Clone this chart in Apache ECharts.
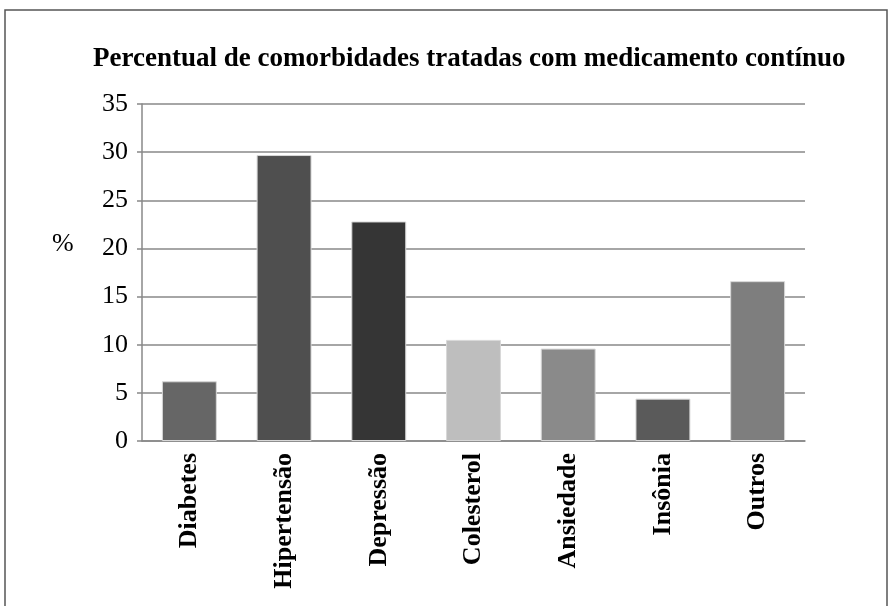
<!DOCTYPE html>
<html>
<head>
<meta charset="utf-8">
<script src="https://cdn.jsdelivr.net/npm/echarts@6/dist/echarts.min.js"></script>
<style>
  html, body { margin: 0; padding: 0; background: #fff; }
  #chart { width: 892px; height: 606px; }
</style>
</head>
<body>
<div id="chart"></div>
<script>
// dados
var categorias = ['Diabetes', 'Hipertensão', 'Depressão', 'Colesterol', 'Ansiedade', 'Insônia', 'Outros'];
var valores = [6.2, 29.7, 22.8, 10.5, 9.6, 4.4, 16.6];
var cores = ['#666666', '#4f4f4f', '#353535', '#bebebe', '#8a8a8a', '#5a5a5a', '#7e7e7e'];

var chart = echarts.init(document.getElementById('chart'));

var option = {
  backgroundColor: '#fff',
  animation: false,
  title: {
    text: 'Percentual de comorbidades tratadas com medicamento contínuo',
    left: 88,
    top: 41,
    textStyle: {
      fontFamily: 'Liberation Serif',
      fontWeight: 'bold',
      fontSize: 27,
      color: '#000'
    }
  },
  graphic: [
    {
      type: 'rect',
      shape: { x: 5, y: 10, width: 882, height: 620 },
      style: { fill: 'none', stroke: '#555', lineWidth: 1.5 },
      silent: true
    },
    {
      type: 'text',
      left: 52,
      top: 231,
      style: { text: '%', font: '26px "Liberation Serif"', fill: '#000' }
    }
  ],
  grid: { left: 142, right: 87, top: 104, bottom: 165 },
  xAxis: {
    type: 'category',
    data: categorias,
    axisLine: { lineStyle: { color: '#888', width: 1.5 } },
    axisTick: { show: false },
    axisLabel: {
      rotate: 90,
      margin: 12,
      fontFamily: 'Liberation Serif',
      fontWeight: 'bold',
      fontSize: 26,
      color: '#000'
    }
  },
  yAxis: {
    type: 'value',
    min: 0,
    max: 35,
    interval: 5,
    axisLine: { show: true, lineStyle: { color: '#888', width: 1.5 } },
    axisTick: { show: true, length: 5, lineStyle: { color: '#888', width: 1.5 } },
    splitLine: { lineStyle: { color: '#888', width: 1.5 } },
    axisLabel: {
      margin: 14,
      fontFamily: 'Liberation Serif',
      fontSize: 26,
      color: '#000'
    }
  },
  series: [
    {
      type: 'bar',
      barWidth: '58%',
      data: valores.map(function (v, i) {
        return { value: v, itemStyle: { color: cores[i], borderColor: '#d8d8d8', borderWidth: 1 } };
      })
    }
  ]
};

chart.setOption(option);
</script>
</body>
</html>
